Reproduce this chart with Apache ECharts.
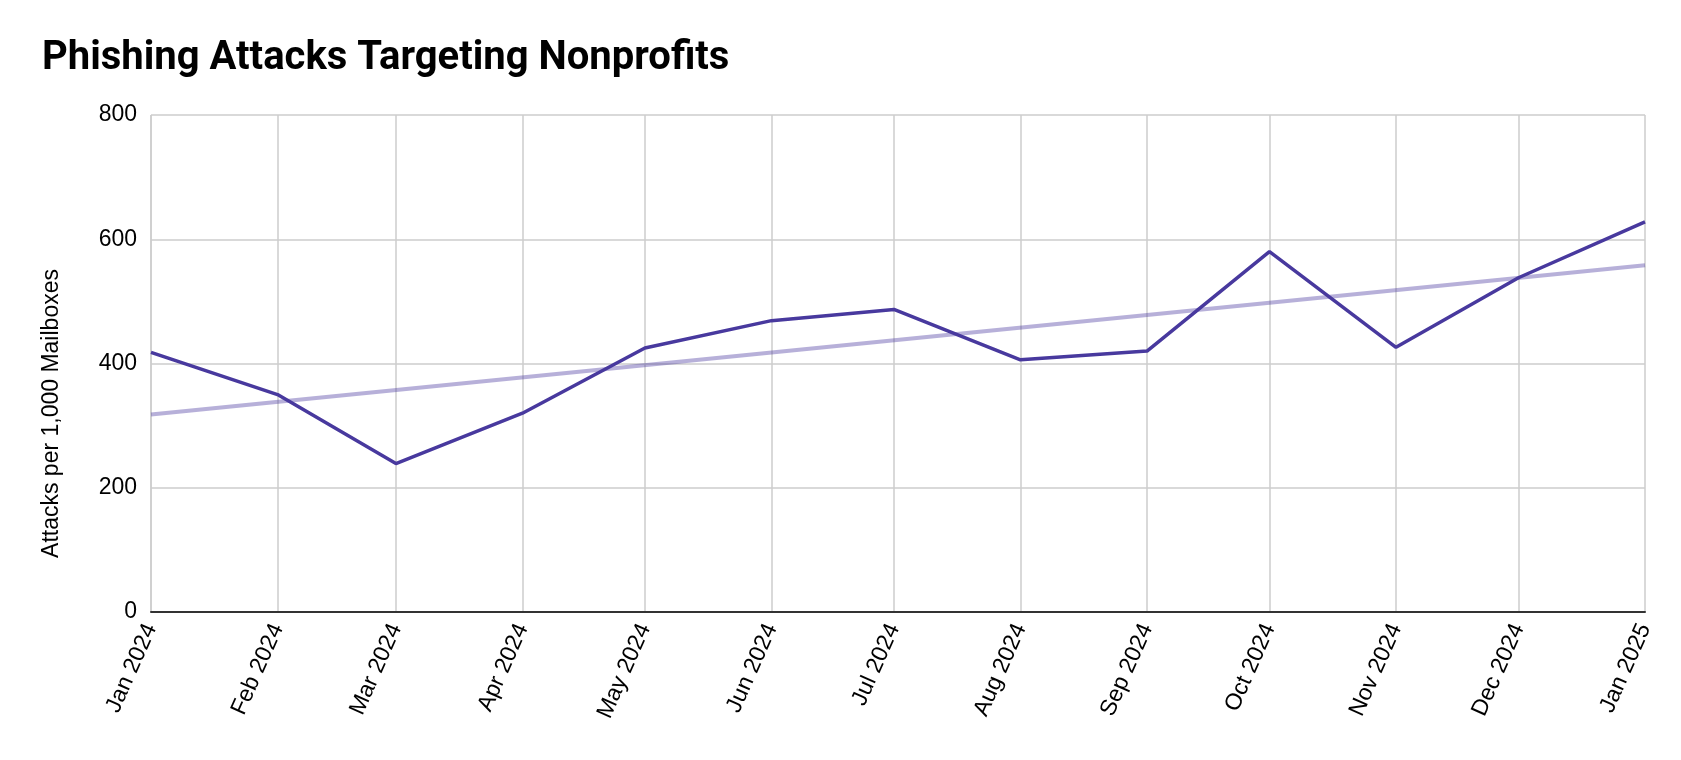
<!DOCTYPE html>
<html>
<head>
<meta charset="utf-8">
<script src="https://cdn.jsdelivr.net/npm/echarts@6/dist/echarts.min.js"></script>
<style>
html,body{margin:0;padding:0;background:#fff;}
#chart{width:1681px;height:760px;}
</style>
</head>
<body>
<div id="chart"></div>
<script>
const months = ['2024-01-01','2024-02-01','2024-03-01','2024-04-01','2024-05-01','2024-06-01','2024-07-01','2024-08-01','2024-09-01','2024-10-01','2024-11-01','2024-12-01','2025-01-01'];
const attacks = [418, 350, 239, 320, 425, 469, 487, 406, 420, 580, 426, 538, 628];
const trendDates = ['2024-01-01','2025-01-01'];
const trendValues = [318, 558];
const yTicks = [0, 200, 400, 600, 800];
const monthNames = ['Jan','Feb','Mar','Apr','May','Jun','Jul','Aug','Sep','Oct','Nov','Dec'];

const chart = echarts.init(document.getElementById('chart'));
chart.setOption({
  animation: false,
  backgroundColor: '#fff',
  title: {
    text: 'Phishing Attacks Targeting Nonprofits',
    left: 37, top: 34,
    textStyle: {fontFamily: 'Roboto', fontWeight: 'bold', fontSize: 40, color: '#000'}
  },
  grid: {left: 151, right: 36, top: 115, bottom: 148, containLabel: false},
  xAxis: {
    type: 'time',
    min: new Date(2024,0,1).getTime(),
    max: new Date(2025,0,1).getTime(),
    splitNumber: 12,
    axisLine: {show: true, lineStyle: {color: '#333', width: 2}},
    axisTick: {show: false},
    splitLine: {show: true, lineStyle: {color: '#cccccc', width: 1.5}},
    axisLabel: {
      rotate: 66, margin: 13,
      fontFamily: 'Liberation Sans', fontSize: 23, color: '#000',
      hideOverlap: false, showMinLabel: true, showMaxLabel: true,
      formatter: function (v) { const d = new Date(v); return monthNames[d.getMonth()] + ' ' + d.getFullYear(); }
    }
  },
  yAxis: {
    type: 'value',
    min: yTicks[0], max: yTicks[yTicks.length-1], interval: 200,
    name: 'Attacks per 1,000 Mailboxes',
    nameLocation: 'middle', nameGap: 88, nameRotate: 90,
    nameTextStyle: {fontFamily: 'Liberation Sans', fontSize: 23, color: '#000', padding: [0, 100, 0, 0]},
    axisLine: {show: false},
    axisTick: {show: false},
    splitLine: {show: true, lineStyle: {color: '#cccccc', width: 1.5}},
    axisLabel: {fontFamily: 'Liberation Sans', fontSize: 23, color: '#000', margin: 14}
  },
  series: [
    {
      type: 'line', name: 'Trend',
      data: trendDates.map((d, i) => [d, trendValues[i]]),
      showSymbol: false, symbol: 'none',
      lineStyle: {color: '#4a3aa0', width: 4, opacity: 0.4},
      z: 2
    },
    {
      type: 'line', name: 'Attacks',
      data: months.map((d, i) => [d, attacks[i]]),
      showSymbol: false, symbol: 'none',
      lineStyle: {color: '#48399e', width: 3.5},
      z: 3
    }
  ]
});
</script>
</body>
</html>
